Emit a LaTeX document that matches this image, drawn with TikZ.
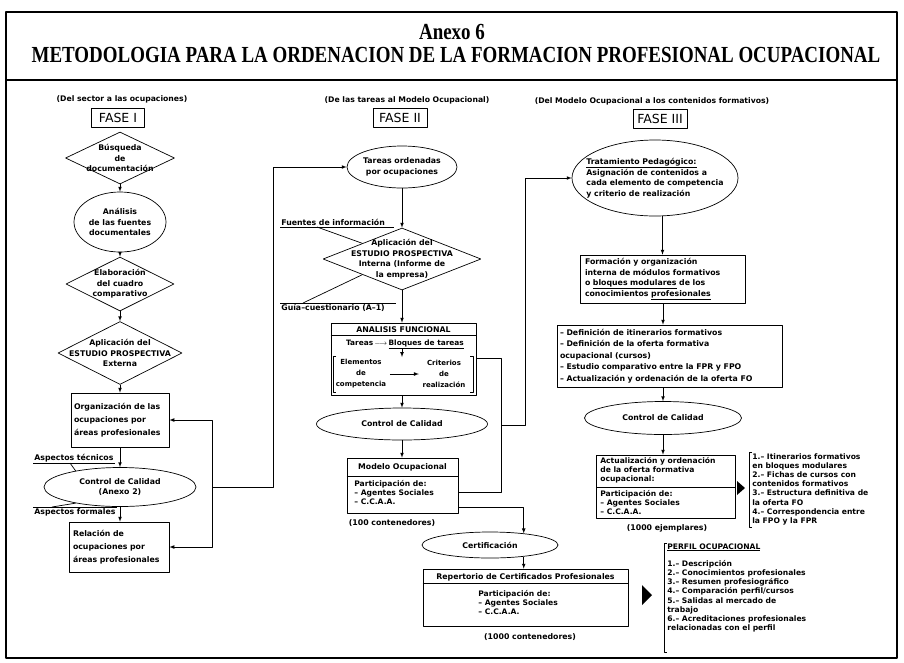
\documentclass[tikz,border=0pt]{standalone}
\usepackage{fontspec}
\usepackage{graphicx}
\setmainfont{Liberation Serif}
\newfontfamily\leroy{DejaVu Sans}
\usetikzlibrary{shapes.geometric}
\tikzset{
  caja/.style={draw,rectangle,inner sep=0pt,align=left},
  elipse/.style={draw,ellipse,inner sep=-12pt,align=center},
  rombo/.style={draw,diamond,shape aspect=2,inner sep=-12pt,align=center},
  fase/.style={draw,font=\leroy\fontsize{12.5}{12.5}\selectfont,minimum height=19pt,inner sep=1.5pt},
  nota/.style={inner sep=1pt,align=left},
  lista/.style={inner sep=0pt,align=left,font=\leroy\bfseries\fontsize{7.6}{9.2}\selectfont},
  cabeza/.style={font=\leroy\bfseries\fontsize{7.7}{9}\selectfont},
  menuda/.style={align=center,font=\leroy\bfseries\fontsize{7}{11}\selectfont},
}
\begin{document}
\begin{tikzpicture}[>=latex,x=1pt,y=-1pt,line width=0.7pt,line join=bevel,
  every node/.style={font=\leroy\bfseries\fontsize{7.8}{10.5}\selectfont}]
%%
  \useasboundingbox (0,0) rectangle (904,662);
  \draw [line width=2pt] (6,12) rectangle (897,658);
  \draw [line width=1.6pt] (6,80) -- (897,80);

  \node (node_anexo) at (452,32) [font=\bfseries\fontsize{23}{23}\selectfont] {\scalebox{0.824}[1]{Anexo 6}};
  \node (node_titulo) at (456,55) [font=\bfseries\fontsize{23}{23}\selectfont] {\scalebox{0.824}[1]{METODOLOGIA PARA LA ORDENACION DE LA FORMACION PROFESIONAL OCUPACIONAL}};

  % fase I
  \node (node_f1) at (122,99) [cabeza] {(Del sector a las ocupaciones)};
  \node (node_fase1) at (118,118) [fase,minimum width=53pt] {FASE I};
  \node (node_busq) at (120,158) [rombo,minimum width=109pt,minimum height=52pt] {Búsqueda\\de\\documentación};
  \node (node_anal) at (120,222) [elipse,minimum width=92pt,minimum height=60pt] {Análisis\\de las fuentes\\documentales};
  \node (node_elab) at (120,284) [rombo,minimum width=108pt,minimum height=54pt] {Elaboración\\del cuadro\\comparativo};
  \node (node_apl1) at (120,353) [rombo,minimum width=124pt,minimum height=63pt] {Aplicación del\\ESTUDIO PROSPECTIVA\\Externa};
  \node (node_org) at (120,420) [caja,minimum width=98pt,minimum height=54pt,text width=92pt,font=\leroy\bfseries\fontsize{7.8}{13}\selectfont] {Organización de las\\ocupaciones por\\áreas profesionales};
  \node (node_ctrl1) at (120,487) [elipse,minimum width=152pt,minimum height=39pt] {Control de Calidad\\(Anexo 2)};
  \node (node_rel) at (119,547) [caja,minimum width=100pt,minimum height=50pt,text width=92pt,font=\leroy\bfseries\fontsize{7.8}{13}\selectfont] {Relación de\\ocupaciones por\\áreas profesionales};

  \node (node_tec) at (33,463) [nota,anchor=south west] {Aspectos técnicos};
  \node (node_for) at (33,507) [nota,anchor=north west] {Aspectos formales};
  \coordinate (c_tec) at (70,463);
  \coordinate (c_for) at (52,507);
  \draw (node_tec.south west) -- (node_tec.south east);
  \draw (node_for.north west) -- (node_for.north east);
  \draw (c_tec) -- (node_ctrl1.160);
  \draw (c_for) -- (node_ctrl1.200);

  \draw [->] (node_busq.south) -- (node_anal.north);
  \draw [->] (node_anal.south) -- (node_elab.north);
  \draw [->] (node_elab.south) -- (node_apl1.north);
  \draw [->] (node_apl1.south) -- (node_org.north);
  \draw [->] (node_org.south) -- (node_ctrl1.north);
  \draw [->] (node_ctrl1.south) -- (node_ctrl1.south |- node_rel.north);

  \coordinate (c_lazo) at (212,487);
  \coordinate (c_sube) at (273,487);
  \draw [->] (c_lazo) |- (node_org.east);
  \draw [->] (c_lazo) |- (node_rel.east);

  % fase II
  \node (node_f2) at (407,100) [cabeza] {(De las tareas al Modelo Ocupacional)};
  \node (node_fase2) at (400,118) [fase,minimum width=54pt] {FASE II};
  \node (node_tareas) at (402,167) [elipse,minimum width=110pt,minimum height=42pt] {Tareas ordenadas\\por ocupaciones};
  \node (node_apl2) at (402,259) [rombo,minimum width=158pt,minimum height=62pt] {Aplicación del\\ESTUDIO PROSPECTIVA\\Interna (Informe de\\la empresa)};
  \node (node_fue) at (280,227) [nota,anchor=south west,text width=111pt] {Fuentes de información};
  \node (node_gui) at (280,303) [nota,anchor=north west,text width=113pt] {Guía–cuestionario (A–1)};
  \coordinate (c_fue) at (317,227);
  \coordinate (c_gui) at (303,303);
  \draw (node_fue.south west) -- (node_fue.south east);
  \draw (node_gui.north west) -- (node_gui.north east);
  \draw (c_fue) -- (node_apl2.north west);
  \draw (c_gui) -- (node_apl2.south west);
  \draw [->] (c_lazo) -- (c_sube) |- (node_tareas.west);

  \node (node_af) at (403.5,359) [draw,minimum width=145pt,minimum height=72pt] {};
  \draw ([yshift=-13pt]node_af.north west) -- ([yshift=-13pt]node_af.north east);
  \node (node_af_t) at (403.5,330) {ANALISIS FUNCIONAL};
  \node (node_af_tar) at (405,344) [font=\leroy\bfseries\fontsize{7.4}{9}\selectfont] {Tareas\,$\longrightarrow$\,\underline{Bloques de tareas}};
  \node (node_elem) at (361,374) [menuda] {Elementos\\de\\competencia};
  \node (node_crit) at (444,374) [menuda] {Criterios\\de\\realización};
  \coordinate (c_af1) at (402,349);
  \coordinate (c_af2) at (402,357);
  \draw [->] (c_af1) -- (c_af2);
  \draw [->] (node_elem) -- (node_crit);
  \draw (336,356) -- (333,356) -- (333,392) -- (336,392);
  \draw (470,356) -- (473,356) -- (473,392) -- (470,392);

  \node (node_ctrl2) at (402,424) [elipse,minimum width=171pt,minimum height=32pt] {Control de Calidad};
  \node (node_mod) at (402.5,485.5) [draw,minimum width=111pt,minimum height=55pt] {};
  \draw ([yshift=-19pt]node_mod.north west) -- ([yshift=-19pt]node_mod.north east);
  \node (node_mod_t) at (402.5,467) {Modelo Ocupacional};
  \node (node_mod_p) at (354,480) [lista,anchor=north west] {Participación de:\\– Agentes Sociales\\– C.C.A.A.};
  \node (node_100) at (392,523) {(100 contenedores)};

  \draw [->] (node_tareas.south) -- (node_apl2.north);
  \draw [->] (node_apl2.south) -- (node_apl2.south |- node_af.north);
  \draw [->] (node_af.south -| node_apl2.south) -- (node_ctrl2.north);
  \draw [->] (node_ctrl2.south) -- (node_ctrl2.south |- node_mod.north);

  \coordinate (c_r1) at (501,358);
  \coordinate (c_r2) at (501,425);
  \coordinate (c_r3) at (525,425);
  \coordinate (c_r4) at (501,492);
  \coordinate (c_ce) at (523,507);
  \draw (node_af.east |- c_r1) -- (c_r1) -- (c_r4) -- (node_mod.east |- c_r4);

  % certificacion
  \node (node_cert) at (490,545) [elipse,minimum width=136pt,minimum height=26pt] {Certificación};
  \node (node_rep) at (525.5,597.5) [draw,minimum width=205pt,minimum height=57pt] {};
  \draw ([yshift=-15pt]node_rep.north west) -- ([yshift=-15pt]node_rep.north east);
  \node (node_rep_t) at (525.5,577) {Repertorio de Certificados Profesionales};
  \node (node_rep_p) at (478,590) [lista,anchor=north west] {Participación de:\\– Agentes Sociales\\– C.C.A.A.};
  \node (node_1000c) at (530,637) {(1000 contenedores)};
  \draw [->] (node_mod.east |- c_ce) -| (node_cert.19);
  \draw [->] (node_cert.-19) -- (node_cert.-19 |- node_rep.north);
  \fill (642,585) -- (652,595) -- (642,605) -- cycle;

  % fase III
  \node (node_f3) at (652,101) [cabeza] {(Del Modelo Ocupacional a los contenidos formativos)};
  \node (node_fase3) at (660,119) [fase,minimum width=54pt] {FASE III};
  \node (node_trat) at (655,178) [elipse,minimum width=166pt,minimum height=76pt,align=left] {\underline{Tratamiento Pedagógico:}\\Asignación de contenidos a\\cada elemento de competencia\\y criterio de realización};
  \node (node_form) at (662.5,279) [caja,minimum width=165pt,minimum height=48pt,text width=155pt] {Formación y organización\\interna de módulos formativos\\o \underline{bloques modulares} de los\\conocimientos \underline{profesionales}};
  \node (node_def) at (669.5,356) [caja,minimum width=225pt,minimum height=62pt,text width=219pt,font=\leroy\bfseries\fontsize{7.8}{11.5}\selectfont] {– Definición de itinerarios formativos\\– Definición de la oferta formativa\\ocupacional (cursos)\\– Estudio comparativo entre la FPR y FPO\\– Actualización y ordenación de la oferta FO};
  \node (node_ctrl3) at (663,418) [elipse,minimum width=157pt,minimum height=33pt] {Control de Calidad};
  \node (node_act) at (666,486.5) [draw,minimum width=139pt,minimum height=63pt] {};
  \draw ([yshift=-33pt]node_act.north west) -- ([yshift=-33pt]node_act.north east);
  \node (node_act_t) at (600,457) [lista,anchor=north west] {Actualización y ordenación\\de la oferta formativa\\ocupacional:};
  \node (node_act_p) at (600,490) [lista,anchor=north west] {Participación de:\\– Agentes Sociales\\– C.C.A.A.};
  \node (node_1000e) at (667,528) {(1000 ejemplares)};

  \draw [->] (c_r2) -- (c_r3) |- (node_trat.west);
  \draw [->] (node_form.north |- node_trat.south) -- (node_form.north);
  \draw [->] (node_form.south -| node_ctrl3.north) -- (node_def.north -| node_ctrl3.north);
  \draw [->] (node_def.south -| node_ctrl3.north) -- (node_ctrl3.north);
  \draw [->] (node_ctrl3.south) -- (node_ctrl3.south |- node_act.north);

  \fill (737,481) -- (745,488) -- (737,495) -- cycle;
  \draw (752,452) -- (749,452) -- (749,527) -- (752,527);
  \node (node_res) at (752,453) [lista,anchor=north west] {1.– Itinerarios formativos\\en bloques modulares\\2.– Fichas de cursos con\\contenidos formativos\\3.– Estructura definitiva de\\la oferta FO\\4.– Correspondencia entre\\la FPO y la FPR};

  \draw (667,543) -- (664,543) -- (664,652) -- (667,652);
  \node (node_perfil) at (667,543) [lista,anchor=north west] {\underline{PERFIL OCUPACIONAL}\\[8pt]1.– Descripción\\2.– Conocimientos profesionales\\3.– Resumen profesiográfico\\4.– Comparación perfil/cursos\\5.– Salidas al mercado de\\trabajo\\6.– Acreditaciones profesionales\\relacionadas con el perfil};
%
\end{tikzpicture}
\end{document}
